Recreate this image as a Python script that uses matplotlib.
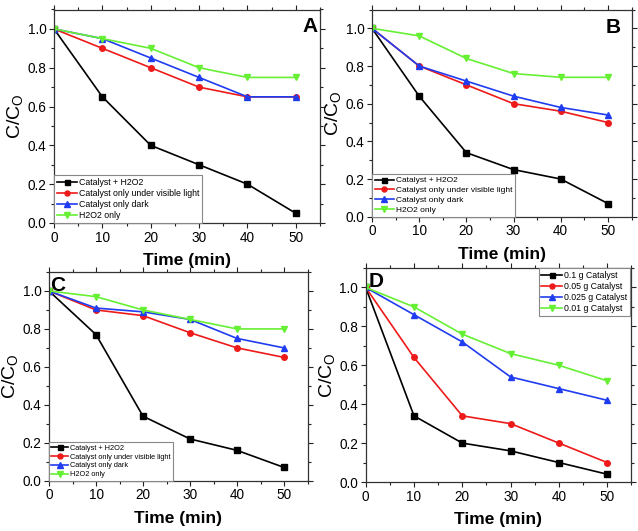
import matplotlib
matplotlib.use("Agg")
import matplotlib.pyplot as plt
from matplotlib.ticker import MultipleLocator

plt.rcParams['font.family'] = ['Liberation Sans', 'DejaVu Sans']
plt.rcParams['mathtext.fontset'] = 'custom'
plt.rcParams['mathtext.rm'] = 'Liberation Sans'

time = [0, 10, 20, 30, 40, 50]

labels_abc = ["Catalyst + H2O2", "Catalyst only under visible light",
              "Catalyst only dark", "H2O2 only"]
labels_d = ["0.1 g Catalyst", "0.05 g Catalyst", "0.025 g Catalyst", "0.01 g Catalyst"]

a_black = [1.0, 0.65, 0.40, 0.30, 0.20, 0.05]
a_red = [1.0, 0.90, 0.80, 0.70, 0.65, 0.65]
a_blue = [1.0, 0.95, 0.85, 0.75, 0.65, 0.65]
a_green = [1.0, 0.95, 0.90, 0.80, 0.75, 0.75]

b_black = [1.0, 0.64, 0.34, 0.25, 0.20, 0.07]
b_red = [1.0, 0.80, 0.70, 0.60, 0.56, 0.50]
b_blue = [1.0, 0.80, 0.72, 0.64, 0.58, 0.54]
b_green = [1.0, 0.96, 0.84, 0.76, 0.74, 0.74]

c_black = [1.0, 0.77, 0.34, 0.22, 0.16, 0.07]
c_red = [1.0, 0.90, 0.87, 0.78, 0.70, 0.65]
c_blue = [1.0, 0.91, 0.89, 0.85, 0.75, 0.70]
c_green = [1.0, 0.97, 0.90, 0.85, 0.80, 0.80]

d_black = [1.0, 0.34, 0.20, 0.16, 0.10, 0.04]
d_red = [1.0, 0.64, 0.34, 0.30, 0.20, 0.10]
d_blue = [1.0, 0.86, 0.72, 0.54, 0.48, 0.42]
d_green = [1.0, 0.90, 0.76, 0.66, 0.60, 0.52]

colors = ['#000000', '#ee1a1a', '#1f3cf0', '#66f033']
markers = ['s', 'o', '^', 'v']

W, H = 638, 531
fig = plt.figure(figsize=(W / 100, H / 100), dpi=100)


def px_axes(l, r, t, b):
    return fig.add_axes([l / W, 1 - b / H, (r - l) / W, (b - t) / H])


panels = [
    dict(box=(54, 320, 9.5, 223), series=[a_black, a_red, a_blue, a_green], labels=labels_abc,
         letter='A', letter_pos=(0.99, 0.965), letter_ha='right',
         leg_anchor=(0.0, 0.0), leg_loc='lower left', leg_fs=6.3),
    dict(box=(372, 631.5, 9.5, 216.7), series=[b_black, b_red, b_blue, b_green], labels=labels_abc,
         letter='B', letter_pos=(0.96, 0.96), letter_ha='right',
         leg_anchor=(0.0, 0.0), leg_loc='lower left', leg_fs=6.0),
    dict(box=(49, 307.5, 272, 480.7), series=[c_black, c_red, c_blue, c_green], labels=labels_abc,
         letter='C', letter_pos=(0.005, 0.98), letter_ha='left',
         leg_anchor=(0.0, 0.0), leg_loc='lower left', leg_fs=5.3),
    dict(box=(365.7, 631.3, 268, 482), series=[d_black, d_red, d_blue, d_green], labels=labels_d,
         letter='D', letter_pos=(0.012, 0.98), letter_ha='left',
         leg_anchor=(0.995, 1.0), leg_loc='upper right', leg_fs=6.3),
]

for p in panels:
    ax = px_axes(*p['box'])
    for ys, lab, c, m in zip(p['series'], p['labels'], colors, markers):
        ax.plot(time, ys, color=c, marker=m, markersize=4 if m in 'so' else 4.5,
                linewidth=1.2, label=lab)
    ax.set_xlim(0, 55)
    ax.set_ylim(0, 1.1)
    ax.xaxis.set_major_locator(MultipleLocator(10))
    ax.xaxis.set_minor_locator(MultipleLocator(5))
    ax.yaxis.set_minor_locator(MultipleLocator(0.1))
    ax.set_yticks([0, 0.2, 0.4, 0.6, 0.8, 1.0])
    ax.set_yticklabels(['0.0', '0.2', '0.4', '0.6', '0.8', '1.0'])
    ax.tick_params(which='both', direction='out', top=True, right=True,
                   labelsize=9.8, width=0.8, colors='#222222', labelcolor='black')
    ax.tick_params(which='major', length=3.5, pad=2)
    ax.tick_params(which='minor', length=2)
    for s in ax.spines.values():
        s.set_linewidth(0.9)
        s.set_color('#333333')
    ax.set_xlabel('Time (min)', fontsize=12.5, fontweight='bold', labelpad=6)
    ax.set_ylabel('C/C$_\\mathregular{O}$', fontsize=14, labelpad=1)
    ax.text(p['letter_pos'][0], p['letter_pos'][1], p['letter'], transform=ax.transAxes,
            fontsize=15, fontweight='bold', ha=p['letter_ha'], va='top')
    leg = ax.legend(loc=p['leg_loc'], bbox_to_anchor=p['leg_anchor'], borderaxespad=0,
                    fontsize=p['leg_fs'], fancybox=False, framealpha=1,
                    edgecolor='#888888', handlelength=2.3, handletextpad=0.3,
                    labelspacing=0.25, borderpad=0.3, markerscale=0.9)
    leg.get_frame().set_linewidth(0.8)

fig.savefig('out.png', dpi=100)
